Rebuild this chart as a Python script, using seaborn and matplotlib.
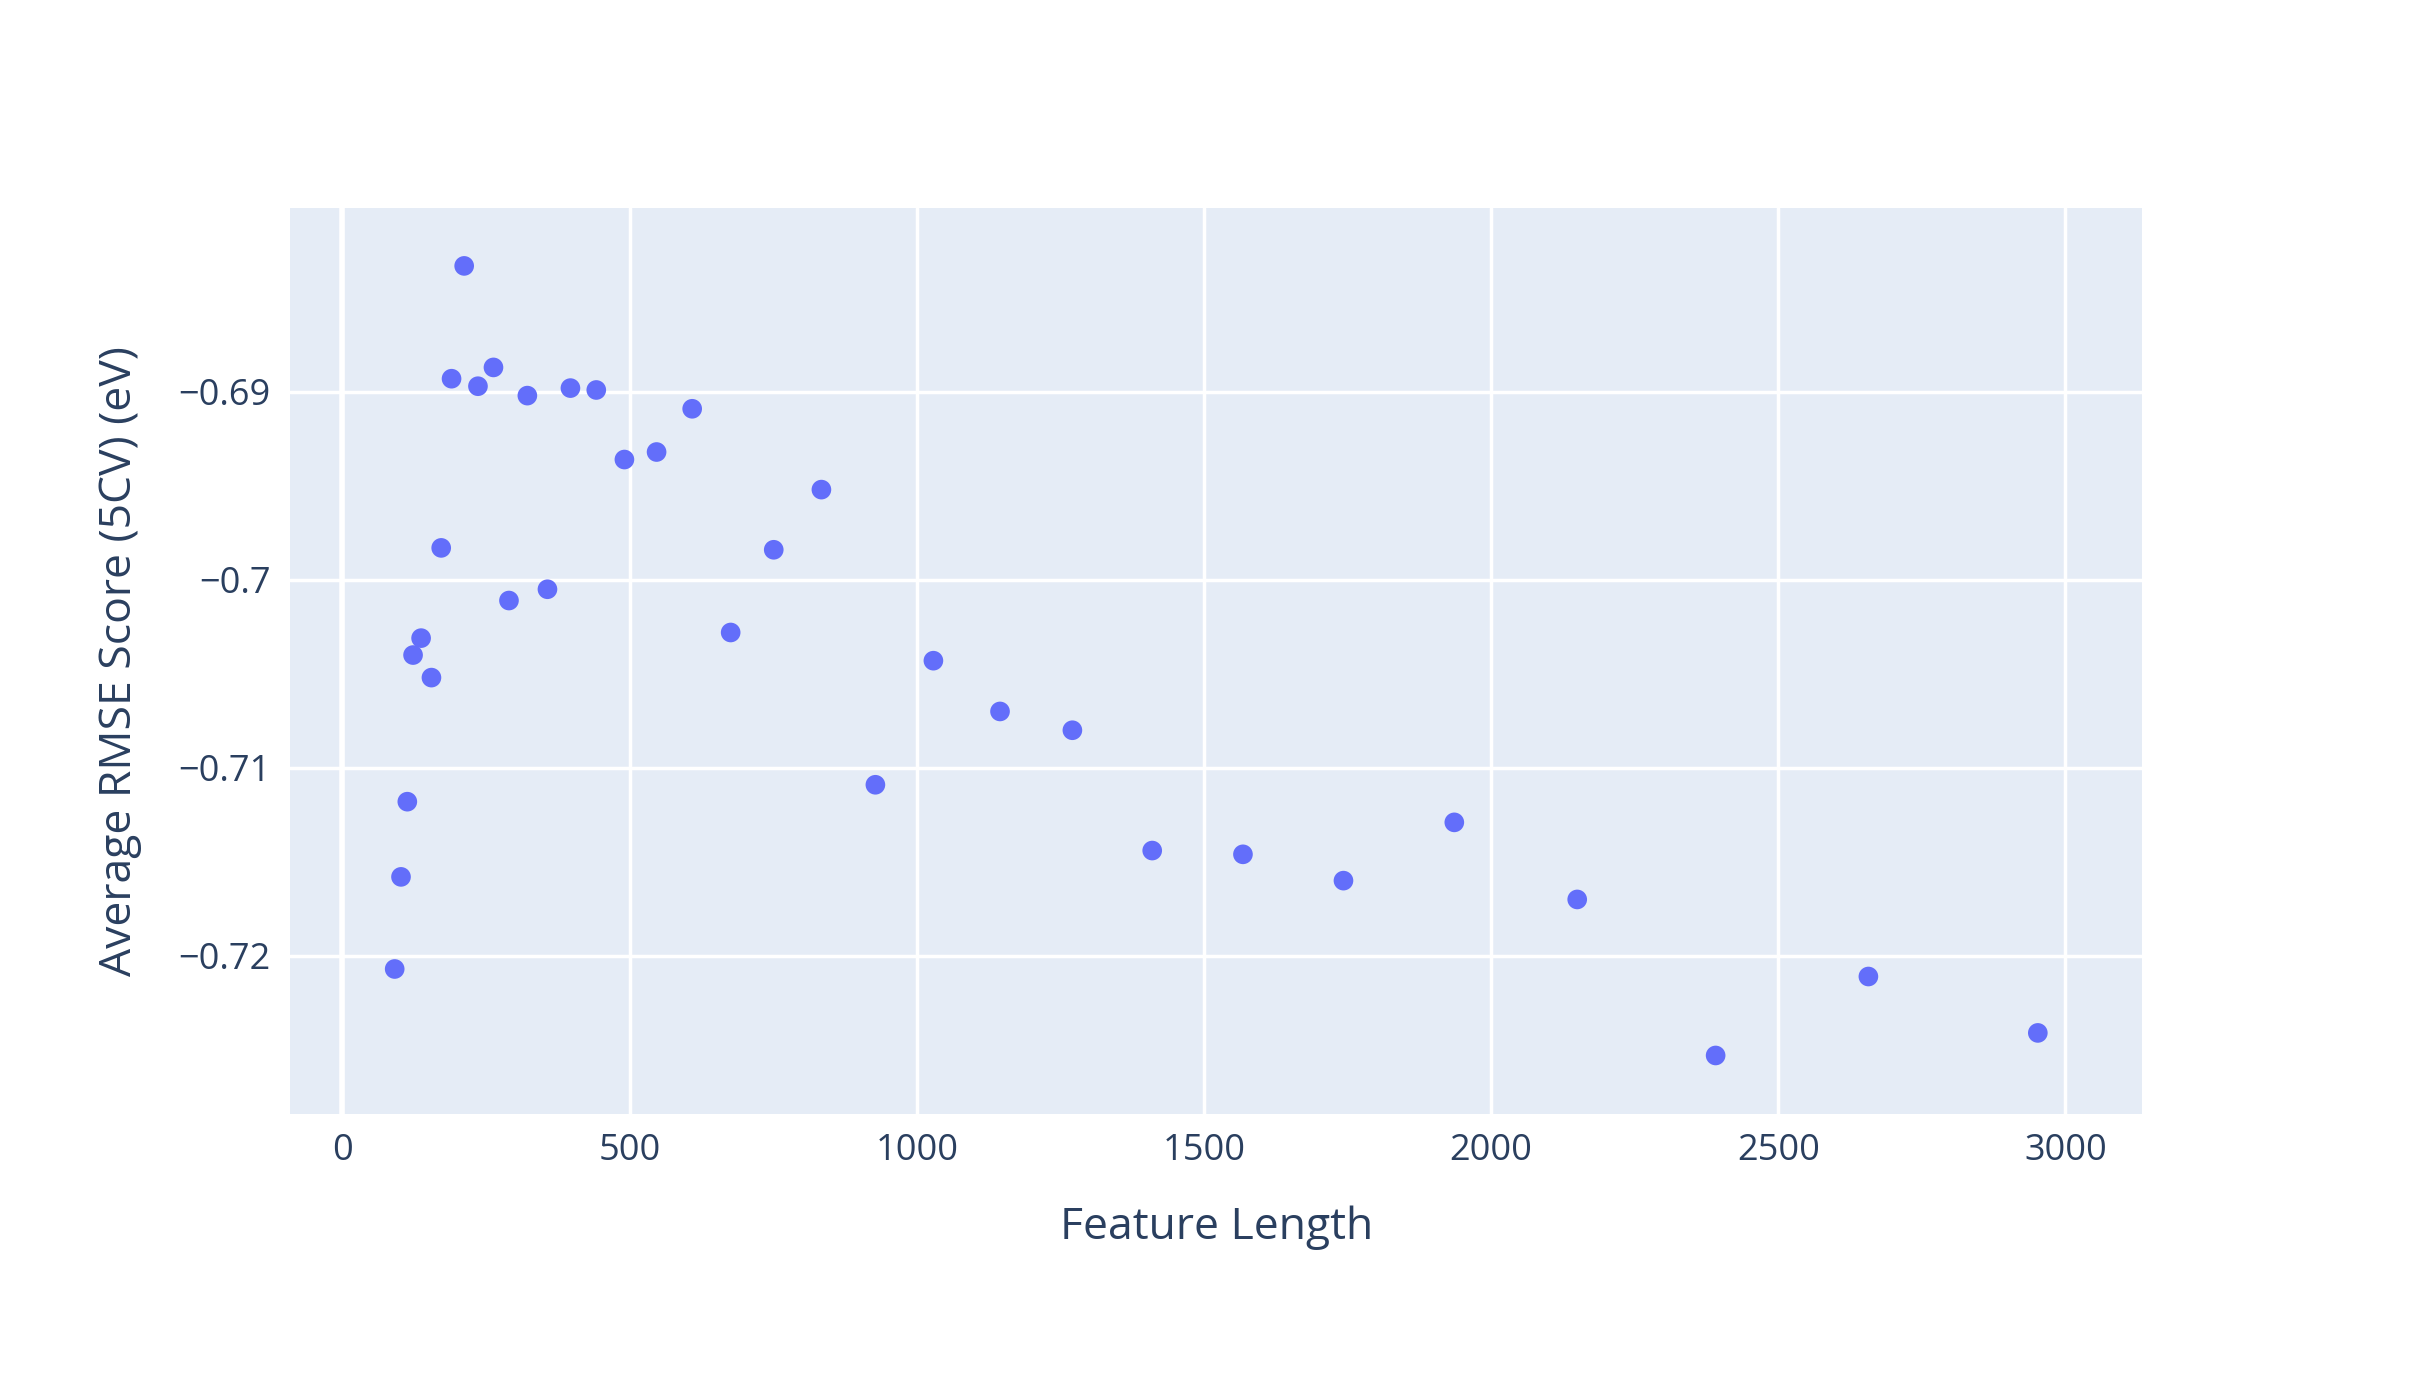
import matplotlib
matplotlib.use("Agg")
import matplotlib.pyplot as plt
import seaborn as sns
import pandas as pd

feature_length = [91, 102, 113, 123, 137, 155, 172, 190, 212, 236, 263, 290, 322, 357, 397, 442,
                  491, 547, 609, 676, 751, 834, 928, 1029, 1145, 1271, 1410, 1568, 1743, 1936,
                  2150, 2391, 2657, 2952]
rmse_score = [-0.7207, -0.7158, -0.7118, -0.7040, -0.7031, -0.7052, -0.6983, -0.6893, -0.6833,
              -0.6897, -0.6887, -0.7011, -0.6902, -0.7005, -0.6898, -0.6899, -0.6936, -0.6932,
              -0.6909, -0.7028, -0.6984, -0.6952, -0.7109, -0.7043, -0.7070, -0.7080, -0.7144,
              -0.7146, -0.7160, -0.7129, -0.7170, -0.7253, -0.7211, -0.7241]
x_ticks = [0, 500, 1000, 1500, 2000, 2500, 3000]
y_ticks = [-0.72, -0.71, -0.70, -0.69]
y_tick_labels = ["\u22120.72", "\u22120.71", "\u22120.7", "\u22120.69"]

df = pd.DataFrame({"Feature Length": feature_length, "score": rmse_score})

sns.set_theme(style="whitegrid")
plt.rcParams['font.family'] = ['Open Sans', 'DejaVu Sans']
fig = plt.figure(figsize=(24.18, 13.75), dpi=100)
ax = fig.add_axes([0.120, 0.190, 0.766, 0.659])
ax.set_facecolor("#e5ecf6")
sns.scatterplot(data=df, x="Feature Length", y="score", ax=ax, color="#636efa",
                s=200, edgecolor="none", zorder=3)
ax.set_xlim(-91, 3134)
ax.set_ylim(-0.7284, -0.6802)
ax.set_xticks(x_ticks)
ax.set_xticklabels([str(t) for t in x_ticks])
ax.set_yticks(y_ticks)
ax.set_yticklabels(y_tick_labels)
ax.grid(color="white", linewidth=2.5)
ax.axvline(0, color="white", linewidth=4, zorder=1)
for s in ax.spines.values():
    s.set_visible(False)
ax.tick_params(axis="both", labelsize=26, colors="#2a3f5f", length=0, pad=14)
ax.set_xlabel("Feature Length", fontsize=32, color="#2a3f5f", labelpad=26)
ax.set_ylabel("Average RMSE Score (5CV) (eV)", fontsize=32, color="#2a3f5f", labelpad=26)
fig.savefig("out.png", dpi=100, facecolor="white")
